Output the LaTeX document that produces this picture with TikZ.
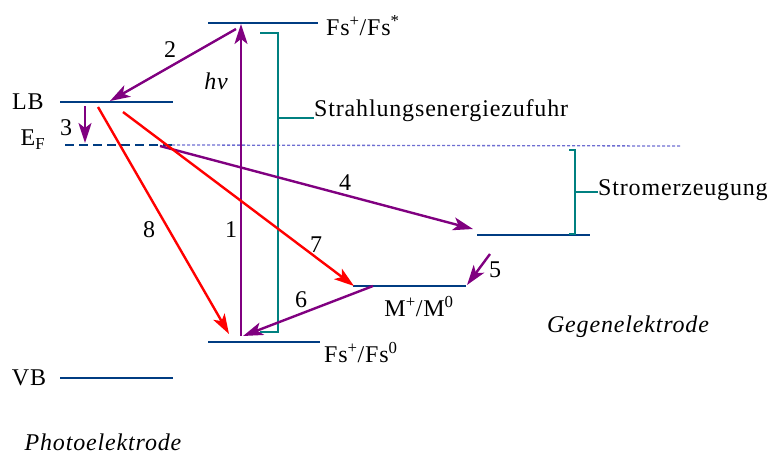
\documentclass[tikz,border=0pt]{standalone}
\usepackage{fontspec}
\setmainfont{Liberation Serif}[LetterSpace=3.5]
\usetikzlibrary{arrows.meta}
\definecolor{lvl}{RGB}{0,60,130}
\definecolor{pur}{RGB}{128,0,128}
\definecolor{tl}{RGB}{0,128,128}
\definecolor{dotc}{RGB}{110,110,210}
\begin{document}
\begin{tikzpicture}[x=1pt,y=-1pt,
  level/.style={draw=lvl,line width=2.8pt},
  parr/.style={draw=pur,line width=2.4pt,-{Stealth[length=20pt,width=13pt,inset=5pt]}},
  rarr/.style={draw=red,line width=2.4pt,-{Stealth[length=20pt,width=13pt,inset=5pt]}},
  brk/.style={draw=tl,line width=2.4pt},
  lbl/.style={font=\fontsize{24}{28}\selectfont,inner sep=0pt},
  num/.style={font=\fontsize{24}{28}\selectfont,inner sep=0pt},
  it/.style={font=\fontsize{24}{28}\selectfont\itshape,inner sep=0pt}]
\useasboundingbox (0,0) rectangle (774,455);
% levels
\coordinate (lbL) at (60,102); \coordinate (lbR) at (173,102);
\coordinate (efL) at (65,145); \coordinate (efR) at (172,145);
\coordinate (dotR) at (680,146);
\coordinate (vbL) at (60,378); \coordinate (vbR) at (173,378);
\coordinate (fsuL) at (208,23); \coordinate (fsuR) at (318,23);
\coordinate (fsdL) at (208,342); \coordinate (fsdR) at (320,342);
\coordinate (mL) at (353,286); \coordinate (mR) at (466,286);
\coordinate (geL) at (477,235); \coordinate (geR) at (590,235);
\draw[level] (lbL) -- (lbR);
\draw[level,line width=2.2pt,dash pattern=on 9pt off 5pt] (efL) -- (efR);
\draw[dotc,line width=1.3pt,dash pattern=on 3pt off 2pt] (efR) -- (dotR);
\draw[level] (vbL) -- (vbR);
\draw[level] (fsuL) -- (fsuR);
\draw[level] (fsdL) -- (fsdR);
\draw[level] (mL) -- (mR);
\draw[level] (geL) -- (geR);
% labels
\node[lbl] (LB) at (28,102) {LB};
\node[lbl] (EF) at (33,140) {E\textsubscript{F}};
\node[lbl] (VB) at (29,378) {VB};
\node[lbl,anchor=west] (fsu) at (326,26) {Fs\textsuperscript{+}/Fs\textsuperscript{*}};
\node[lbl,anchor=west] (fsd) at (324,353) {Fs\textsuperscript{+}/Fs\textsuperscript{0}};
\node[lbl] (mlab) at (419,307) {M\textsuperscript{+}/M\textsuperscript{0}};
\node[it] (gege) at (628,327) {Gegenelektrode};
\node[it] (photo) at (103,442) {Photoelektrode};
% brackets
\coordinate (b1t) at (260,33); \coordinate (b1tr) at (278,33);
\coordinate (b1b) at (260,332); \coordinate (b1br) at (278,332);
\coordinate (b1m) at (278,118);
\node[lbl,anchor=west] (strahl) at (314,111) {Strahlungsenergiezufuhr};
\draw[brk] (b1t) -- (b1tr) -- (b1br) -- (b1b);
\draw[brk] (b1m) -- (b1m -| strahl.west);
\coordinate (b2t) at (569,150); \coordinate (b2tr) at (575,150);
\coordinate (b2b) at (569,234); \coordinate (b2br) at (575,234);
\coordinate (b2m) at (575,192);
\node[lbl,anchor=west] (strom) at (598,190) {Stromerzeugung};
\draw[brk] (b2t) -- (b2tr) -- (b2br) -- (b2b);
\draw[brk] (b2m) -- (b2m -| strom.west);
% arrows
\coordinate (a1s) at (241,336); \coordinate (a1e) at (241,24);
\draw[parr] (a1s) -- (a1e);
\node[num] (n1) at (231,230) {1};
\node[it] (hnu) at (216,81) {hν};
\coordinate (a2s) at (236,29); \coordinate (a2e) at (110,101);
\draw[parr] (a2s) -- (a2e);
\node[num] (n2) at (170,50) {2};
\coordinate (a3s) at (85,106); \coordinate (a3e) at (85,143);
\draw[parr] (a3s) -- (a3e);
\node[num] (n3) at (66,128) {3};
\coordinate (a4s) at (160,146); \coordinate (a4e) at (473,229);
\draw[parr] (a4s) -- (a4e);
\node[num] (n4) at (345,183) {4};
\coordinate (a5s) at (490,254); \coordinate (a5e) at (467,285);
\draw[parr] (a5s) -- (a5e);
\node[num] (n5) at (495,270) {5};
\coordinate (a6s) at (373,286); \coordinate (a6e) at (243,336);
\draw[parr] (a6s) -- (a6e);
\node[num] (n6) at (301,300) {6};
\coordinate (a7s) at (123,112); \coordinate (a7e) at (354,286);
\draw[rarr] (a7s) -- (a7e);
\node[num] (n7) at (316,245) {7};
\coordinate (a8s) at (98,107); \coordinate (a8e) at (229,334);
\draw[rarr] (a8s) -- (a8e);
\node[num] (n8) at (149,230) {8};
\end{tikzpicture}
\end{document}
